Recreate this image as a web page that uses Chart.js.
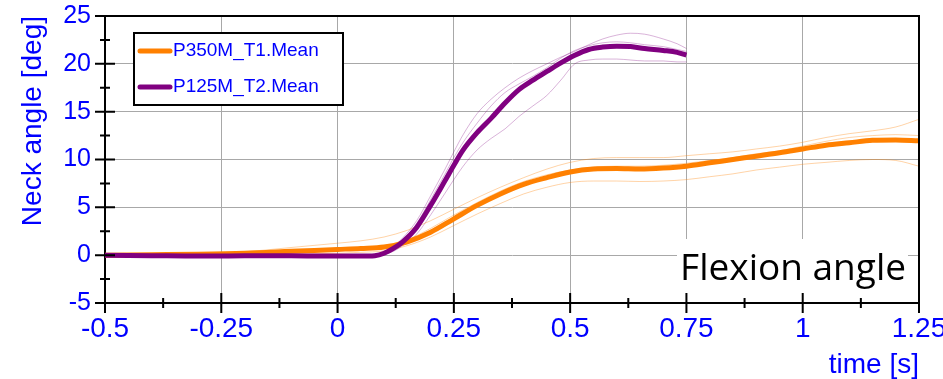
<!DOCTYPE html>
<html>
<head>
<meta charset="utf-8">
<script src="https://cdn.jsdelivr.net/npm/chart.js@4.4.1/dist/chart.umd.min.js"></script>
<style>
  body { margin: 0; background: #fff; }
  canvas { display: block; }
</style>
</head>
<body>
<canvas id="chart" width="943" height="379"></canvas>
<script>
// time [s] and neck angle [deg]
var orangeTime = [-0.5, -0.4, -0.3, -0.2, -0.1, 0, 0.05, 0.1, 0.15, 0.2, 0.25, 0.3, 0.35, 0.4, 0.45, 0.5, 0.55, 0.6, 0.65, 0.7, 0.75, 0.8, 0.85, 0.9, 0.95, 1, 1.05, 1.1, 1.15, 1.2, 1.25];
var orangeMean = [0, 0.05, 0.1, 0.2, 0.4, 0.6, 0.7, 0.85, 1.4, 2.4, 3.8, 5.2, 6.4, 7.4, 8.1, 8.7, 9.0, 9.05, 9.0, 9.1, 9.3, 9.65, 10.0, 10.35, 10.7, 11.1, 11.5, 11.75, 12.0, 12.05, 11.95];
var orangeRun1 = [0, 0.05, 0.1, 0.35, 0.8, 1.25, 1.5, 1.9, 2.6, 3.6, 4.8, 6.0, 7.1, 8.1, 9.0, 9.7, 10.1, 10.2, 10.2, 10.2, 10.4, 10.6, 10.8, 11.1, 11.4, 11.8, 12.3, 12.7, 13.0, 13.4, 14.2];
var orangeRun2 = [0, 0, 0.05, 0.15, 0.35, 0.5, 0.6, 0.9, 1.6, 2.8, 4.2, 5.5, 6.7, 7.7, 8.4, 8.9, 9.2, 9.3, 9.3, 9.4, 9.6, 9.9, 10.2, 10.6, 10.9, 11.4, 11.9, 12.3, 12.5, 12.6, 12.5];
var orangeRun3 = [0, -0.05, 0, 0.05, 0.1, 0.2, 0.3, 0.45, 1.0, 1.9, 3.1, 4.3, 5.4, 6.4, 7.1, 7.6, 7.75, 7.75, 7.7, 7.75, 7.9, 8.2, 8.5, 8.9, 9.2, 9.5, 9.7, 9.9, 10.0, 9.9, 9.3];

var purpleTime = [-0.5, -0.4, -0.3, -0.2, -0.1, 0, 0.05, 0.08, 0.1, 0.12, 0.14, 0.17, 0.2, 0.23, 0.25, 0.27, 0.3, 0.33, 0.36, 0.39, 0.42, 0.45, 0.48, 0.51, 0.54, 0.57, 0.6, 0.63, 0.66, 0.7, 0.73, 0.75];
var purpleMean = [0, -0.05, -0.1, -0.05, -0.05, -0.1, -0.1, -0.05, 0.2, 0.7, 1.4, 2.9, 5.2, 7.7, 9.4, 11.0, 12.8, 14.3, 15.9, 17.3, 18.3, 19.2, 20.1, 20.9, 21.5, 21.75, 21.85, 21.8, 21.6, 21.4, 21.2, 20.9];
var purpleRun1 = [0, -0.05, -0.1, -0.05, -0.05, -0.1, -0.1, 0, 0.3, 0.9, 1.8, 3.6, 6.2, 8.9, 10.8, 12.6, 14.8, 16.3, 17.5, 18.5, 19.3, 20.0, 20.7, 21.3, 22.0, 22.6, 23.0, 23.2, 23.1, 22.6, 22.1, 21.6];
var purpleRun2 = [0, -0.05, -0.1, -0.05, -0.05, -0.1, -0.1, 0, 0.3, 0.8, 1.6, 3.3, 5.8, 8.4, 10.2, 11.8, 13.8, 15.6, 17.0, 17.9, 18.7, 19.6, 20.6, 21.4, 21.9, 22.2, 22.3, 22.2, 22.0, 21.8, 21.5, 21.3];
var purpleRun3 = [0, -0.05, -0.1, -0.05, -0.05, -0.1, -0.1, -0.05, 0.1, 0.4, 1.0, 2.2, 4.2, 6.4, 7.9, 9.3, 11.0, 12.2, 13.2, 14.5, 15.6, 16.7, 18.3, 20.0, 20.4, 20.5, 20.5, 20.4, 20.3, 20.3, 20.2, 20.2];

var xTicks = [-0.5, -0.25, 0, 0.25, 0.5, 0.75, 1, 1.25];
var yTicks = [-5, 0, 5, 10, 15, 20, 25];
var seriesLabels = ["P350M_T1.Mean", "P125M_T2.Mean"];

var blue = "#0000ff";
var orange = "#ff8000";
var purple = "#800080";

function pts(t, v) {
  return t.map(function (x, i) { return { x: x, y: v[i] }; });
}

function meanLine(label, t, v, color, order) {
  return { label: label, data: pts(t, v), borderColor: color, borderWidth: 5,
           pointRadius: 0, cubicInterpolationMode: "monotone", order: order, legend: true };
}
function runLine(t, v, color) {
  return { label: "", data: pts(t, v), borderColor: color, borderWidth: 1,
           pointRadius: 0, cubicInterpolationMode: "monotone", order: 5 };
}

var framePlugin = {
  id: "frame",
  beforeDatasetsDraw: function (chart) {
    var ctx = chart.ctx, a = chart.chartArea;
    ctx.save();
    ctx.fillStyle = "#fff";
    ctx.fillRect(a.right - 242, a.bottom - 64, 231, 62);
    ctx.fillStyle = "#000";
    ctx.font = '37px "Open Sans"';
    ctx.textAlign = "right";
    ctx.textBaseline = "alphabetic";
    ctx.fillText("Flexion angle", a.right - 13, a.bottom - 23);
    ctx.restore();
  },
  afterDraw: function (chart) {
    var ctx = chart.ctx, a = chart.chartArea;
    var xs = chart.scales.x, ys = chart.scales.y;
    ctx.save();
    ctx.strokeStyle = "#000";
    ctx.lineWidth = 2;
    ctx.beginPath();
    ctx.moveTo(a.left, a.top); ctx.lineTo(a.right, a.top); ctx.lineTo(a.right, a.bottom);
    ctx.stroke();

    ctx.beginPath();
    xTicks.forEach(function (v, i) {
      var px = xs.getPixelForValue(v);
      ctx.moveTo(px, a.bottom - 10); ctx.lineTo(px, a.bottom + 10);
      if (i < xTicks.length - 1) {
        var mx = xs.getPixelForValue((v + xTicks[i + 1]) / 2);
        ctx.moveTo(mx, a.bottom - 5); ctx.lineTo(mx, a.bottom + 5);
      }
    });
    yTicks.forEach(function (v, i) {
      var py = ys.getPixelForValue(v);
      ctx.moveTo(a.left - 10, py); ctx.lineTo(a.left + 10, py);
      if (i < yTicks.length - 1) {
        var my = ys.getPixelForValue((v + yTicks[i + 1]) / 2);
        ctx.moveTo(a.left - 5, my); ctx.lineTo(a.left + 5, my);
      }
    });
    ctx.stroke();

    // legend
    var bx = a.left + 29, by = a.top + 17, bw = 209, bh = 72;
    ctx.fillStyle = "#fff";
    ctx.fillRect(bx, by, bw, bh);
    ctx.strokeRect(bx, by, bw, bh);
    var items = chart.data.datasets.filter(function (d) { return d.legend; });
    ctx.font = '19px "Liberation Sans"';
    ctx.textBaseline = "middle";
    items.forEach(function (d, i) {
      var y = by + 18 + i * 36;
      ctx.strokeStyle = d.borderColor;
      ctx.lineWidth = 5;
      ctx.lineCap = "round";
      ctx.beginPath(); ctx.moveTo(bx + 6, y); ctx.lineTo(bx + 36, y); ctx.stroke();
      ctx.fillStyle = blue;
      ctx.fillText(d.label, bx + 39, y);
    });
    ctx.restore();
  }
};

new Chart(document.getElementById("chart"), {
  type: "line",
  data: {
    datasets: [
      meanLine(seriesLabels[0], orangeTime, orangeMean, orange, 1),
      meanLine(seriesLabels[1], purpleTime, purpleMean, purple, 0),
      runLine(orangeTime, orangeRun1, "rgba(255,128,0,0.35)"),
      runLine(orangeTime, orangeRun2, "rgba(255,128,0,0.35)"),
      runLine(orangeTime, orangeRun3, "rgba(255,128,0,0.35)"),
      runLine(purpleTime, purpleRun1, "rgba(128,0,128,0.3)"),
      runLine(purpleTime, purpleRun2, "rgba(128,0,128,0.3)"),
      runLine(purpleTime, purpleRun3, "rgba(128,0,128,0.3)")
    ]
  },
  options: {
    responsive: false,
    animation: false,
    devicePixelRatio: 1,
    layout: { padding: { top: 16, right: 24, left: 0, bottom: 0 } },
    plugins: { legend: { display: false }, tooltip: { enabled: false } },
    scales: {
      x: {
        type: "linear", min: -0.5, max: 1.25,
        afterBuildTicks: function (s) { s.ticks = xTicks.map(function (v) { return { value: v }; }); },
        afterFit: function (s) { s.height = 76; s.paddingLeft = 0; s.paddingRight = 0; },
        ticks: { color: blue, font: { family: "Liberation Sans", size: 28 }, padding: 9,
                 maxRotation: 0, autoSkip: false,
                 callback: function (v) { return String(v); } },
        grid: { color: "#a8a8a8", drawTicks: false },
        border: { color: "#000", width: 2 },
        title: { display: true, text: "time [s]", align: "end", color: blue,
                 font: { family: "Liberation Sans", size: 28, lineHeight: 1 },
                 padding: { top: 0, bottom: 0 } }
      },
      y: {
        min: -5, max: 25,
        afterBuildTicks: function (s) { s.ticks = yTicks.map(function (v) { return { value: v }; }); },
        afterFit: function (s) { s.width = 105; s.paddingTop = 0; s.paddingBottom = 0; },
        ticks: { color: blue, font: { family: "Liberation Sans", size: 25 }, padding: 14,
                 callback: function (v) { return String(v); } },
        grid: { color: "#a8a8a8", drawTicks: false },
        border: { color: "#000", width: 2 },
        title: { display: true, text: "Neck angle [deg]", align: "end", color: blue,
                 font: { family: "Liberation Sans", size: 28, lineHeight: 1.2 },
                 padding: { top: 16, bottom: 0 } }
      }
    }
  },
  plugins: [framePlugin]
});
</script>
</body>
</html>
